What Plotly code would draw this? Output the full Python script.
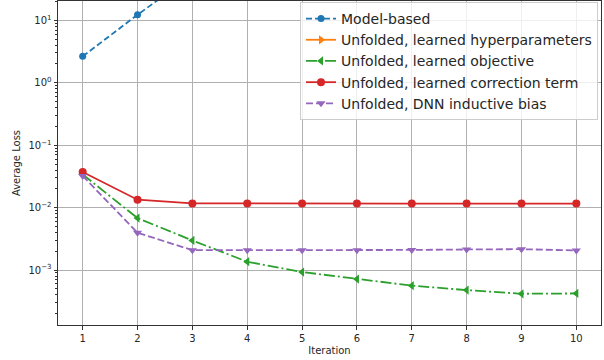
import plotly.graph_objects as go

iterations = [1, 2, 3, 4, 5, 6, 7, 8, 9, 10]
model_based = [2.65, 12.3, 53, 230, 1000, 4300, 18000, 80000, 350000, 1500000]
learned_hyper = [None] * 10
learned_objective = [0.034, 0.0068, 0.00298, 0.00136, 0.00093, 0.000716, 0.000563, 0.000478, 0.000417, 0.000422]
learned_correction = [0.0373, 0.0134, 0.0117, 0.0116, 0.0116, 0.0116, 0.0116, 0.0116, 0.0116, 0.0116]
dnn_bias = [0.0322, 0.00396, 0.00208, 0.00208, 0.00208, 0.00208, 0.0021, 0.00214, 0.00216, 0.00206]
y_tick_vals = [0.001, 0.01, 0.1, 1, 10]
y_tick_text = ["10<sup>−3</sup>", "10<sup>−2</sup>", "10<sup>−1</sup>", "10<sup>0</sup>", "10<sup>1</sup>"]

series = [
    ("Model-based", model_based, "#1f77b4", "6px,3px", "circle", 7),
    ("Unfolded, learned hyperparameters", learned_hyper, "#ff7f0e", "solid", "triangle-right", 8),
    ("Unfolded, learned objective", learned_objective, "#2ca02c", "11px,3px,2px,3px", "triangle-left", 8),
    ("Unfolded, learned correction term", learned_correction, "#d62728", "solid", "circle", 8),
    ("Unfolded, DNN inductive bias", dnn_bias, "#9467bd", "7px,3px", "triangle-down", 8),
]

fig = go.Figure()
for name, vals, color, dash, sym, sz in series:
    fig.add_trace(go.Scatter(
        x=iterations, y=vals, name=name, mode="lines+markers",
        line=dict(color=color, dash=dash, width=1.8),
        marker=dict(color=color, symbol=sym, size=sz, line=dict(width=0)),
        cliponaxis=True,
    ))

fig.update_layout(
    width=604, height=360,
    margin=dict(l=58, r=3, t=1, b=35),
    paper_bgcolor="white", plot_bgcolor="white",
    font=dict(family="DejaVu Sans", color="#262626", size=10),
    legend=dict(
        x=0.4457, y=0.997, xanchor="left", yanchor="top",
        bgcolor="rgba(255,255,255,0.8)", bordercolor="#cccccc", borderwidth=1,
        font=dict(size=14, family="DejaVu Sans", color="#262626"),
        tracegroupgap=0, itemwidth=30,
    ),
    showlegend=True,
)
fig.update_xaxes(
    range=[0.55, 10.45], tickmode="array", tickvals=iterations,
    ticktext=[str(i) for i in iterations],
    showgrid=True, gridcolor="#b0b0b0", gridwidth=1,
    showline=True, linecolor="#333333", linewidth=1, mirror=True,
    ticks="outside", ticklen=3.5, tickcolor="#333333",
    title=dict(text="Iteration", standoff=4, font=dict(size=10)),
    zeroline=False,
)
fig.update_yaxes(
    type="log", range=[-3.88, 1.31], tickmode="array",
    tickvals=y_tick_vals, ticktext=y_tick_text,
    showgrid=True, gridcolor="#b0b0b0", gridwidth=1,
    showline=True, linecolor="#333333", linewidth=1, mirror=True,
    ticks="outside", ticklen=3.5, tickcolor="#333333",
    minor=dict(ticks="outside", ticklen=2, tickcolor="#333333", showgrid=False, dtick="D1"),
    title=dict(text="Average Loss", standoff=5, font=dict(size=10)),
    zeroline=False,
)

fig.write_html(
    "out.html",
    config={"displayModeBar": False, "staticPlot": True},
    post_script="document.body.style.margin='0';document.body.style.padding='0';",
)
